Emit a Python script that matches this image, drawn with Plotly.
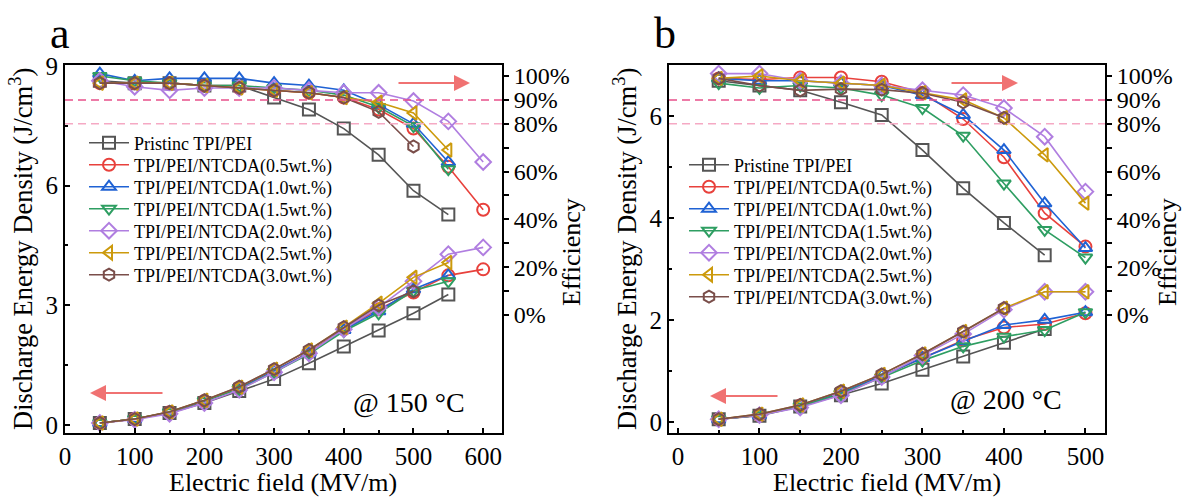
import plotly.graph_objects as go

W, H = 1187, 499

# ---------------- data ----------------
names_a = ["Pristinc TPI/PEI", "TPI/PEI/NTCDA(0.5wt.%)", "TPI/PEI/NTCDA(1.0wt.%)",
           "TPI/PEI/NTCDA(1.5wt.%)", "TPI/PEI/NTCDA(2.0wt.%)", "TPI/PEI/NTCDA(2.5wt.%)",
           "TPI/PEI/NTCDA(3.0wt.%)"]
names_b = ["Pristine TPI/PEI", "TPI/PEI/NTCDA(0.5wt.%)", "TPI/PEI/NTCDA(1.0wt.%)",
           "TPI/PEI/NTCDA(1.5wt.%)", "TPI/PEI/NTCDA(2.0wt.%)", "TPI/PEI/NTCDA(2.5wt.%)",
           "TPI/PEI/NTCDA(3.0wt.%)"]

field_a = [50, 100, 150, 200, 250, 300, 350, 400, 450, 500, 550, 600]
field_b = [50, 100, 150, 200, 250, 300, 350, 400, 450, 500]

# panel a (150 C) discharge energy density (J/cm3)
ud_a = [
    [0.05, 0.15, 0.30, 0.55, 0.85, 1.15, 1.55, 1.97, 2.37, 2.80, 3.27],
    [0.05, 0.15, 0.32, 0.60, 0.92, 1.35, 1.82, 2.40, 2.90, 3.32, 3.75, 3.90],
    [0.05, 0.15, 0.32, 0.60, 0.92, 1.35, 1.80, 2.38, 2.85, 3.40, 3.75],
    [0.05, 0.15, 0.32, 0.60, 0.90, 1.32, 1.78, 2.35, 2.80, 3.37, 3.60],
    [0.05, 0.13, 0.28, 0.55, 0.88, 1.32, 1.80, 2.40, 2.95, 3.60, 4.28, 4.45],
    [0.05, 0.15, 0.33, 0.62, 0.95, 1.40, 1.88, 2.45, 3.05, 3.70, 4.07],
    [0.05, 0.15, 0.33, 0.62, 0.96, 1.40, 1.88, 2.45, 3.00, 3.35],
]
# panel a efficiency (%)
eff_a = [
    [98, 97, 97, 96, 96, 91, 86, 78, 67, 52, 42],
    [97, 97, 97, 96, 95, 94, 93, 91, 86, 78, 62, 44],
    [101, 98, 99, 99, 99, 97, 96, 94, 88, 80, 64],
    [100, 98, 97, 96, 96, 95, 94, 92, 87, 79, 61],
    [98, 95.5, 94, 95, 95, 95, 94, 93, 93, 89.5, 81, 64],
    [97, 97, 97, 96, 95, 94, 93, 91, 89, 84.5, 69],
    [97, 97, 97, 96, 95, 94, 93, 91, 85, 70.5],
]

# panel b (200 C)
ud_b = [
    [0.05, 0.12, 0.30, 0.52, 0.75, 1.02, 1.28, 1.55, 1.82],
    [0.05, 0.13, 0.32, 0.57, 0.90, 1.25, 1.60, 1.85, 1.92, 2.13],
    [0.05, 0.13, 0.32, 0.57, 0.90, 1.25, 1.58, 1.90, 2.00, 2.15],
    [0.05, 0.13, 0.30, 0.55, 0.87, 1.20, 1.48, 1.67, 1.80, 2.15],
    [0.05, 0.13, 0.28, 0.52, 0.88, 1.30, 1.72, 2.20, 2.55, 2.55],
    [0.05, 0.15, 0.33, 0.60, 0.93, 1.33, 1.77, 2.23, 2.55, 2.55],
    [0.05, 0.15, 0.33, 0.60, 0.93, 1.33, 1.77, 2.23],
]
eff_b = [
    [98, 96, 94, 89, 83.7, 69, 53, 38.5, 25],
    [99, 98.5, 99.4, 99.4, 97.6, 93, 82, 66, 42.6, 28.6],
    [99, 98, 98, 97, 96, 92, 83.7, 69, 46.7, 28],
    [97, 95, 96, 95, 92, 86.6, 75, 55, 35.6, 24],
    [101, 101, 98, 97, 96, 94, 92, 86.6, 74.6, 51.6],
    [99, 100, 98, 97, 96, 93, 90, 82.5, 67, 46.8],
    [99, 96, 94, 94.5, 94.3, 92.8, 89, 82.5],
]

colors = ["#555555", "#e8413c", "#1f62d4", "#2e9e62", "#b07ee0", "#cc9a0c", "#7a4e4a"]
symbols = ["square-open", "circle-open", "triangle-up-open", "triangle-down-open",
           "diamond-open", "triangle-left-open", "hexagon-open"]

eff_ticks = [0, 10, 20, 30, 40, 50, 60, 70, 80, 90, 100]
eff_text = ["0%", "", "20%", "", "40%", "", "60%", "", "80%", "90%", "100%"]

FONT = "Liberation Serif, Times New Roman, serif"


def px(xp):
    return xp / W


def py(yp):
    return 1 - yp / H


fig = go.Figure()
legend_defs = {}


def add_panel(xax, yax, yax2, names, field, ud, eff, leg_x, leg_y0, leg_dy, leg_start):
    for i in range(len(names)):
        n = len(ud[i])
        lname = "legend" if leg_start + i == 1 else "legend%d" % (leg_start + i)
        legend_defs[lname] = dict(x=px(leg_x), y=py(leg_y0 + i * leg_dy), xanchor="left",
                                  yanchor="middle", bgcolor="rgba(0,0,0,0)",
                                  font=dict(family=FONT, size=18, color="black"),
                                  itemwidth=40, borderwidth=0)
        fig.add_trace(go.Scatter(
            x=field[:n], y=ud[i], mode="lines+markers", name=names[i],
            xaxis=xax, yaxis=yax, legend=lname, showlegend=True,
            line=dict(color=colors[i], width=1.6),
            marker=dict(symbol=symbols[i], size=12, color=colors[i],
                        line=dict(width=2, color=colors[i])),
        ))
    for i in range(len(names)):
        n = len(eff[i])
        fig.add_trace(go.Scatter(
            x=field[:n], y=eff[i], mode="lines+markers", name=names[i],
            xaxis=xax, yaxis=yax2, showlegend=False,
            line=dict(color=colors[i], width=1.6),
            marker=dict(symbol=symbols[i], size=12, color=colors[i],
                        line=dict(width=2, color=colors[i])),
        ))


add_panel("x", "y", "y2", names_a, field_a, ud_a, eff_a, 84, 143, 22, 1)
add_panel("x2", "y3", "y4", names_b, field_b, ud_b, eff_b, 684, 165, 22, 8)

dom_a = [px(65), px(502)]
dom_b = [px(669), px(1105)]
dom_y = [py(433), py(65)]

axcommon = dict(showline=True, linecolor="black", linewidth=2, showgrid=False,
                zeroline=False, ticklen=5, tickwidth=1.5,
                tickcolor="black", automargin=False)
leftfont = dict(family=FONT, size=25, color="black")
rightfont = dict(family=FONT, size=24, color="black")

fig.update_layout(
    width=W, height=H, margin=dict(l=0, r=0, t=0, b=0, autoexpand=False),
    plot_bgcolor="white", paper_bgcolor="white",
    font=dict(family=FONT, color="black"),
    xaxis=dict(domain=dom_a, anchor="y", range=[0, 627], tickvals=[0, 100, 200, 300, 400, 500, 600],
               ticks="inside", mirror=True, tickfont=leftfont,
               minor=dict(tickvals=[50, 150, 250, 350, 450, 550], ticks="inside", ticklen=3,
                          tickcolor="black"), **axcommon),
    yaxis=dict(domain=dom_y, anchor="x", range=[-0.2, 9.02], tickvals=[0, 3, 6, 9],
               ticks="inside", tickfont=leftfont,
               minor=dict(tickvals=[1.5, 4.5, 7.5], ticks="inside", ticklen=3, tickcolor="black"),
               **axcommon),
    yaxis2=dict(overlaying="y", anchor="x", side="right", range=[-49.4, 104.6],
                tickvals=eff_ticks, ticktext=eff_text, ticks="outside", tickfont=rightfont,
                **axcommon),
    xaxis2=dict(domain=dom_b, anchor="y3", range=[-11, 524], tickvals=[0, 100, 200, 300, 400, 500],
                ticks="inside", mirror=True, tickfont=leftfont,
                minor=dict(tickvals=[50, 150, 250, 350, 450], ticks="inside", ticklen=3,
                           tickcolor="black"), **axcommon),
    yaxis3=dict(domain=dom_y, anchor="x2", range=[-0.22, 7.0], tickvals=[0, 2, 4, 6],
                ticks="inside", tickfont=leftfont,
                minor=dict(tickvals=[1, 3, 5], ticks="inside", ticklen=3, tickcolor="black"),
                **axcommon),
    yaxis4=dict(overlaying="y3", anchor="x2", side="right", range=[-49.4, 104.6],
                tickvals=eff_ticks, ticktext=eff_text, ticks="outside", tickfont=rightfont,
                **axcommon),
    **legend_defs,
)

# reference dashed lines at 90% and 80% efficiency
for yref, xref in (("y2", "x domain"), ("y4", "x2 domain")):
    fig.add_shape(type="line", xref=xref, yref=yref, x0=0, x1=1, y0=90, y1=90,
                  line=dict(color="#e8508a", width=1.5, dash="8px,5px"))
    fig.add_shape(type="line", xref=xref, yref=yref, x0=0, x1=1, y0=80, y1=80,
                  line=dict(color="#f5a9c4", width=1.5, dash="8px,5px"))

anns = []
# panel letters
anns.append(dict(x=px(60), y=py(34), text="a", font=dict(family=FONT, size=44)))
anns.append(dict(x=px(665), y=py(34), text="b", font=dict(family=FONT, size=44)))
# temperature labels
anns.append(dict(x=px(409), y=py(402), text="@ 150 \u00b0C", font=dict(family=FONT, size=28)))
anns.append(dict(x=px(1006), y=py(399), text="@ 200 \u00b0C", font=dict(family=FONT, size=28)))
# axis titles
for xc in (px(21), px(625)):
    anns.append(dict(x=xc, y=py(249), text="Discharge Energy Density (J/cm<sup>3</sup>)",
                     textangle=-90, font=dict(family=FONT, size=26.5)))
for xc in (px(572), px(1168)):
    anns.append(dict(x=xc, y=py(252), text="Efficiency", textangle=-90,
                     font=dict(family=FONT, size=26)))
for xc in (px(283), px(887)):
    anns.append(dict(x=xc, y=py(482), text="Electric field (MV/m)",
                     font=dict(family=FONT, size=26)))
for a in anns:
    a.update(xref="paper", yref="paper", showarrow=False, font_color="black",
             xanchor="center", yanchor="middle")
    fig.add_annotation(**a)

# arrows
arrow_color = "#f07272"
for (hx, hy, tx, ty) in ((470, 83, 397, 83), (90, 393, 164, 393),
                         (1018, 83, 950, 83), (710, 396, 779, 396)):
    fig.add_annotation(x=px(hx), y=py(hy), xref="paper", yref="paper", text="",
                       showarrow=True, ax=tx - hx, ay=ty - hy, axref="pixel", ayref="pixel",
                       arrowhead=2, arrowsize=1.6, arrowwidth=2, arrowcolor=arrow_color)

fig.write_html("out.html")
